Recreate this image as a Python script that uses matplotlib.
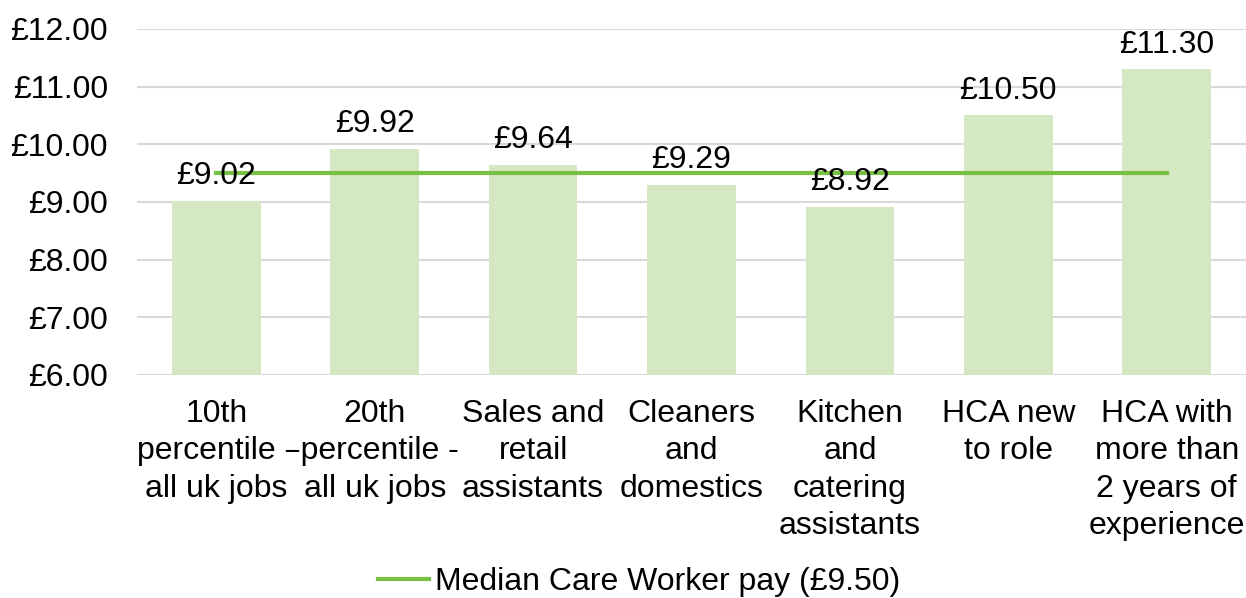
import matplotlib.pyplot as plt

# --- DATA ---
categories = [
    "10th\npercentile -\nall uk jobs",
    "20th\n-percentile -\nall uk jobs",
    "Sales and\nretail\nassistants",
    "Cleaners\nand\ndomestics",
    "Kitchen\nand\ncatering\nassistants",
    "HCA new\nto role",
    "HCA with\nmore than\n2 years of\nexperience",
]
hourly_pay = [9.02, 9.92, 9.64, 9.29, 8.92, 10.50, 11.30]
median_pay = [9.50] * len(categories)
y_ticks = [6, 7, 8, 9, 10, 11, 12]

BAR_COLOR = "#D5E8C4"
LINE_COLOR = "#77C043"
GRID_COLOR = "#D9D9D9"
FS = 23

plt.rcParams['font.family'] = ['Liberation Sans', 'DejaVu Sans']

fig = plt.figure(figsize=(12.46, 5.98), dpi=100)
ax = fig.add_axes([0.110, 0.373, 0.890, 0.5786])

x = list(range(len(categories)))
ax.bar(x, [v - 6 for v in hourly_pay], bottom=6, width=0.56, color=BAR_COLOR, zorder=2)
ax.plot(x, median_pay, color=LINE_COLOR, linewidth=3, zorder=3,
        label="Median Care Worker pay (£9.50)")

# value labels above bars
for xi, v in zip(x, hourly_pay):
    ax.annotate(f"£{v:.2f}", (xi, v), xytext=(0, 7), textcoords="offset points",
                ha="center", va="bottom", fontsize=FS, zorder=4)

ax.set_xlim(-0.5, len(categories) - 0.5)
ax.set_ylim(6, 12)
ax.set_yticks(y_ticks)
ax.set_yticklabels([f"£{t:.2f}" for t in y_ticks])
ax.set_xticks(x)
ax.set_xticklabels(categories, linespacing=1.33)
ax.tick_params(axis="y", length=0, pad=21, labelsize=FS)
ax.tick_params(axis="x", length=0, pad=17, labelsize=FS)

ax.grid(axis="y", color=GRID_COLOR, linewidth=1.5, zorder=0)
ax.set_axisbelow(True)
for s in ax.spines.values():
    s.set_visible(False)

fig.legend(loc="center", bbox_to_anchor=(0.513, 0.026), frameon=False, fontsize=FS,
           handlelength=1.6, handletextpad=0.2, borderpad=0.1)

fig.savefig("out.png", dpi=100)
